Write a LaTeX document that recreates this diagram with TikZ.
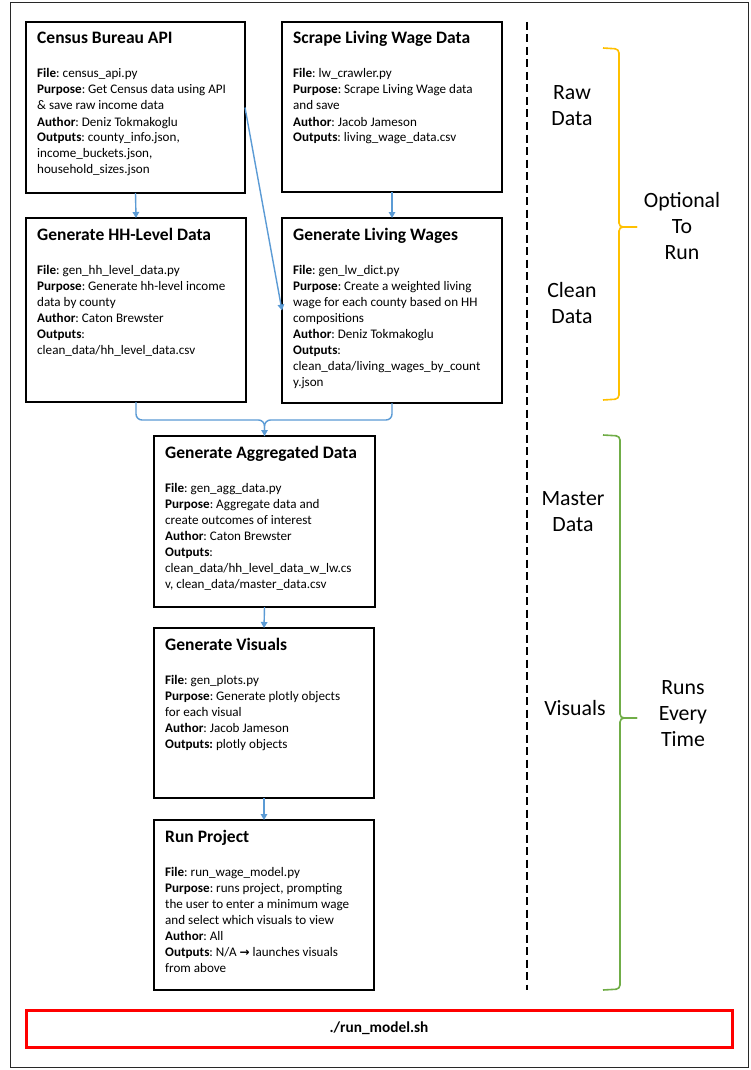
\documentclass[tikz,border=0pt]{standalone}
\usepackage{fontspec}
\setmainfont{Carlito}
\newfontfamily\arrowfont{DejaVu Sans}
\usetikzlibrary{arrows.meta}
\definecolor{conblue}{RGB}{91,155,213}
\definecolor{braceyellow}{RGB}{255,192,0}
\definecolor{bracegreen}{RGB}{112,173,71}
\definecolor{framegray}{RGB}{40,40,40}
\definecolor{runred}{RGB}{255,0,0}
\frenchspacing
\newcommand\procbox[7]{%
  \node[procframe, minimum width=#4pt, minimum height=#5pt, anchor=north west] (#1) at (#2,#3) {};
  \node[titletext, anchor=base west] (#1-t) at ([shift={(11,22)}]#1.north west) {#6};
  \node[bodytext, anchor=base west] (#1-b) at ([shift={(11,56)}]#1.north west)
    {\parbox[t]{230pt}{\fontsize{13.1}{16}\selectfont\frenchspacing #7}};
}
\begin{document}
\begin{tikzpicture}[x=1pt,y=-1pt,
  procframe/.style={draw=black, line width=2.6pt, fill=white, inner sep=0pt, outer sep=0pt},
  titletext/.style={inner sep=0pt, font=\fontsize{17.5}{20}\selectfont\bfseries},
  bodytext/.style={inner sep=0pt},
  line/.style={draw=conblue, line width=1.4pt},
  conn/.style={line, -{Triangle[length=6pt,width=6.5pt]}},
  dashline/.style={draw=black, line width=1.8pt, dash pattern=on 8pt off 4.5pt},
  ybr/.style={draw=braceyellow, line width=1.6pt},
  gbr/.style={draw=bracegreen, line width=1.6pt},
  sidelabel/.style={inner sep=0pt, align=center, font=\fontsize{21.8}{26}\selectfont},
  runbox/.style={draw=runred, line width=3pt, inner sep=0pt, outer sep=0pt, font=\fontsize{15.3}{18}\selectfont\bfseries}
]
\useasboundingbox (0,0) rectangle (750,1070);
\fill[white] (0,0) rectangle (750,1070);
\draw[framegray, line width=1pt] (10,3) rectangle (748,1067);

\procbox{census}{26}{22}{219}{171}{Census Bureau API}{%
\textbf{File}: census\_api.py\\
\textbf{Purpose}: Get Census data using API\\
\& save raw income data\\
\textbf{Author}: Deniz Tokmakoglu\\
\textbf{Outputs}: county\_info.json,\\
income\_buckets.json,\\
household\_sizes.json}

\procbox{scrape}{282}{22}{220}{170}{Scrape Living Wage Data}{%
\textbf{File}: lw\_crawler.py\\
\textbf{Purpose}: Scrape Living Wage data\\
and save\\
\textbf{Author}: Jacob Jameson\\
\textbf{Outputs}: living\_wage\_data.csv}

\procbox{hh}{26}{218}{220}{184}{Generate HH-Level Data}{%
\textbf{File}: gen\_hh\_level\_data.py\\
\textbf{Purpose}: Generate hh-level income\\
data by county\\
\textbf{Author}: Caton Brewster\\
\textbf{Outputs}:\\
clean\_data/hh\_level\_data.csv}

\procbox{lw}{282}{218}{220}{185}{Generate Living Wages}{%
\textbf{File}: gen\_lw\_dict.py\\
\textbf{Purpose}: Create a weighted living\\
wage for each county based on HH\\
compositions\\
\textbf{Author}: Deniz Tokmakoglu\\
\textbf{Outputs}:\\
clean\_data/living\_wages\_by\_count\\
y.json}

\procbox{agg}{154}{436}{221}{171}{Generate Aggregated Data}{%
\textbf{File}: gen\_agg\_data.py\\
\textbf{Purpose}: Aggregate data and\\
create outcomes of interest\\
\textbf{Author}: Caton Brewster\\
\textbf{Outputs}:\\
clean\_data/hh\_level\_data\_w\_lw.cs\\
v, clean\_data/master\_data.csv}

\procbox{vis}{154}{628}{220}{170}{Generate Visuals}{%
\textbf{File}: gen\_plots.py\\
\textbf{Purpose}: Generate plotly objects\\
for each visual\\
\textbf{Author}: Jacob Jameson\\
\textbf{Outputs:} plotly objects}

\procbox{run}{154}{820}{220}{170}{Run Project}{%
\textbf{File}: run\_wage\_model.py\\
\textbf{Purpose}: runs project, prompting\\
the user to enter a minimum wage\\
and select which visuals to view\\
\textbf{Author}: All\\
\textbf{Outputs}: N/A {\arrowfont\bfseries\fontsize{12}{16}\selectfont →} launches visuals\\
from above}

% connectors
\draw[conn] (census.south) -- (hh.north);
\draw[conn] (scrape.south) -- (lw.north);
\draw[conn] (census.east) -- (lw.west);
\coordinate (mergey) at (0,420);
\coordinate (merge) at (agg.north |- mergey);
\draw[line, rounded corners=6pt] (lw.south) |- (merge) -- (agg.north);
\draw[conn, rounded corners=6pt] (hh.south) |- (merge) -- (agg.north);
\draw[conn] (agg.south) -- (vis.north);
\draw[conn] (vis.south) -- (run.north);

% divider
\coordinate (dtop) at (527,22);
\coordinate (dbot) at (527,990);
\draw[dashline] (dtop) -- (dbot);

% braces
\draw[ybr, rounded corners=4pt] (603,48) -- (619,49) -- (619,227) -- (637,227);
\draw[ybr, rounded corners=4pt] (603,400) -- (619,399) -- (619,227) -- (637,227);
\draw[gbr, rounded corners=4pt] (603,435) -- (620,436) -- (620,718) -- (637,718);
\draw[gbr, rounded corners=4pt] (603,990) -- (620,989) -- (620,718) -- (637,718);

% side labels
\node[sidelabel] (rawlbl) at (572,106) {Raw\\Data};
\node[sidelabel] (cleanlbl) at (572,303) {Clean\\Data};
\node[sidelabel] (optlbl) at (682,226) {Optional\\To\\Run};
\node[sidelabel] (masterlbl) at (573,512) {Master\\Data};
\node[sidelabel] (vislbl) at (575,708) {Visuals};
\node[sidelabel] (runslbl) at (683,714) {Runs\\Every\\Time};

% run script box
\node[runbox, minimum width=706pt, minimum height=37pt] (runsh) at (379,1028.5) {./run\_model.sh};
\end{tikzpicture}
\end{document}
